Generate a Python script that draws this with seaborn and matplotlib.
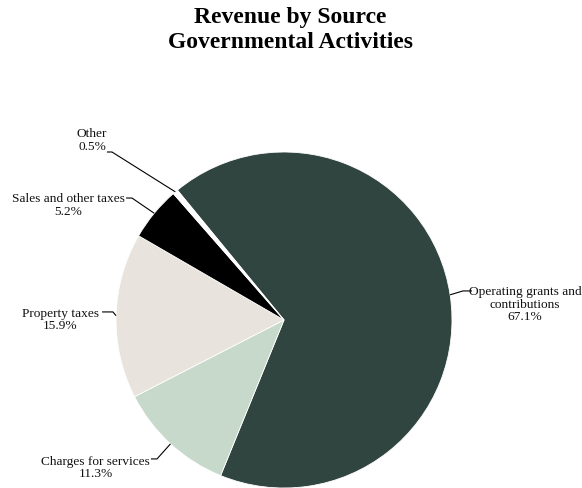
import numpy as np
import matplotlib
matplotlib.use("Agg")
import matplotlib.pyplot as plt
import seaborn as sns

# Revenue sources, drawn clockwise from the top-left
sources = ["Operating grants and\ncontributions", "Charges for services",
           "Property taxes", "Sales and other taxes", "Other"]
shares = [67.1, 11.3, 15.9, 5.2, 0.5]
colors = ["#30453F", "#C6D9CB", "#E8E4DD", "#000000", "#FFFFFF"]

# Label layout (data units of a unit-radius pie): text centre, end of the
# horizontal leader segment next to the text, and the elbow of the leader
label_text_pos = [(1.435, 0.098), (-1.12, -0.875), (-1.33, 0.006),
                  (-1.283, 0.688), (-1.143, 1.074)]
leader_end = [(1.119, 0.173), (-0.792, -0.827), (-1.083, 0.048),
              (-0.940, 0.726), (-1.054, 1.0)]
leader_elbow = [(1.065, 0.173), (-0.756, -0.827), (-1.018, 0.048),
                (-0.905, 0.726), (-1.024, 1.0)]

sns.set_theme(style="white")
plt.rcParams["font.family"] = ["Liberation Serif", "DejaVu Serif"]

fig = plt.figure(figsize=(5.82, 4.89), dpi=100)
W, H = 582, 489
cx, cy, r = 284, 321, 168
ax = fig.add_axes([(cx - r) / W, (H - cy - r) / H, 2 * r / W, 2 * r / H])

wedges, _ = ax.pie(shares, colors=colors, startangle=129.4, counterclock=False,
                   radius=1, wedgeprops=dict(edgecolor="white", linewidth=0.6))
ax.set_xlim(-1, 1)
ax.set_ylim(-1, 1)
ax.set_aspect("equal")
ax.axis("off")

for w, name, val, tp, le, lb in zip(wedges, sources, shares, label_text_pos,
                                   leader_end, leader_elbow):
    mid = np.deg2rad((w.theta1 + w.theta2) / 2)
    edge = (np.cos(mid), np.sin(mid))
    ax.plot([edge[0], lb[0], le[0]], [edge[1], lb[1], le[1]],
            color="black", lw=0.8, clip_on=False, solid_capstyle="butt")
    ax.text(tp[0], tp[1], f"{name}\n{val:.1f}%", ha="center", va="center",
            fontsize=9.6, linespacing=1.05, color="#111111", clip_on=False)

fig.text(290 / W, 1 - 30 / H, "Revenue by Source\nGovernmental Activities",
         ha="center", va="center", fontsize=17, fontweight="bold",
         linespacing=1.2, color="black")

fig.savefig("out.png", dpi=100, facecolor="white")
